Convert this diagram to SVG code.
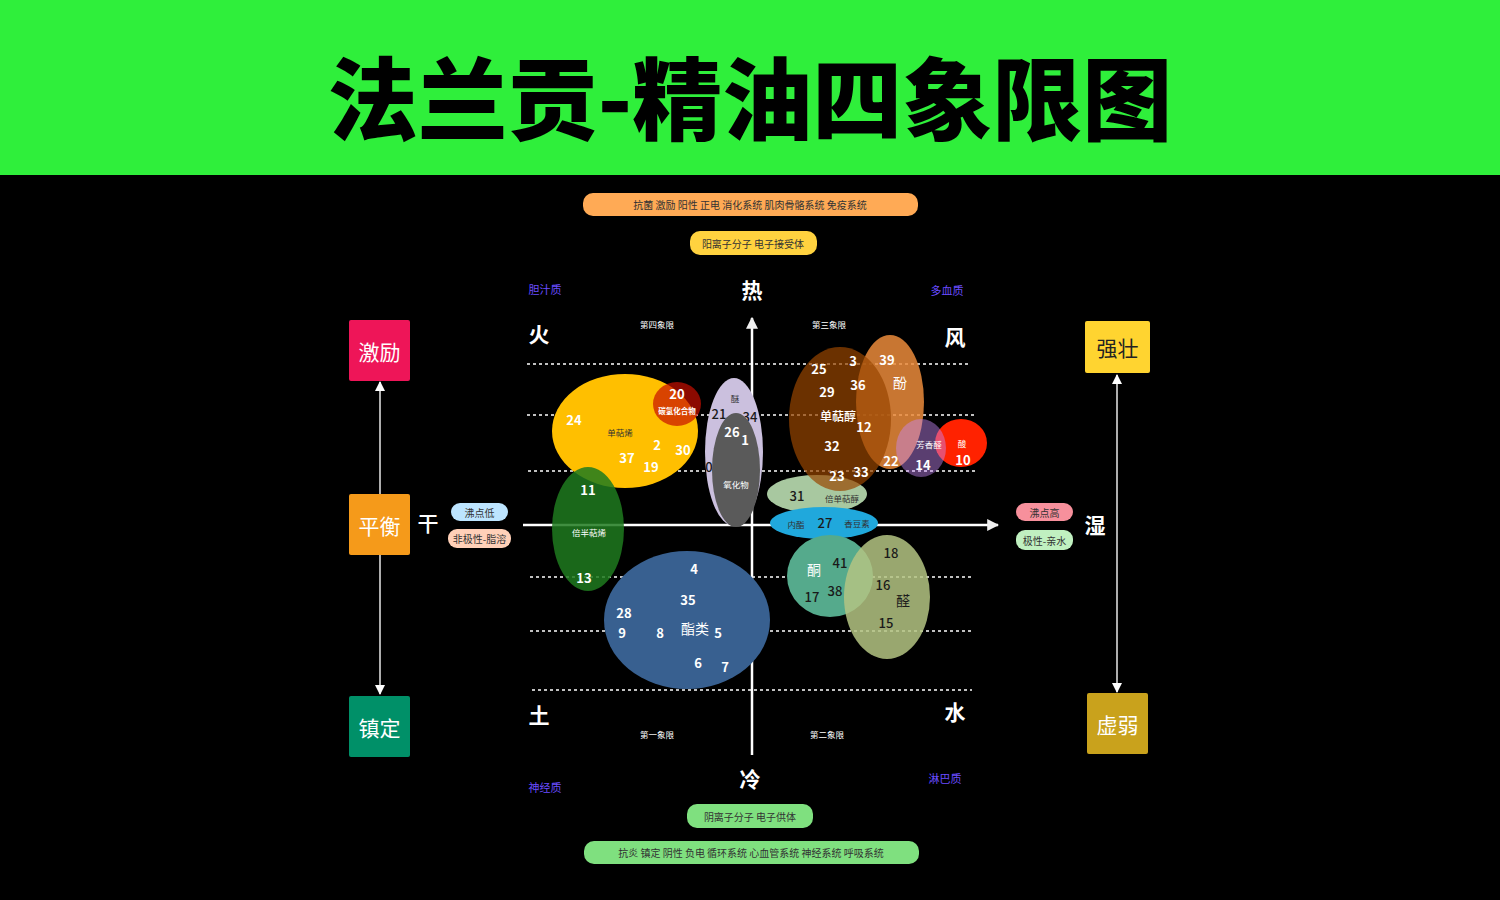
<svg xmlns="http://www.w3.org/2000/svg" width="1500" height="900" viewBox="0 0 1500 900">
<defs>
<marker id="ah" viewBox="0 0 10 10" refX="9" refY="5" markerWidth="10" markerHeight="10" markerUnits="userSpaceOnUse" orient="auto-start-reverse"><path d="M0,0 L10,5 L0,10 Z" fill="#ffffff"/></marker>
<marker id="ahs" viewBox="0 0 10 10" refX="9" refY="5" markerWidth="12" markerHeight="12" markerUnits="userSpaceOnUse" orient="auto-start-reverse"><path d="M0,0 L10,5 L0,10 Z" fill="#f0f0f0"/></marker>
</defs>
<style>
text{font-family:"Noto Sans CJK SC","Noto Sans",sans-serif;text-anchor:middle;dominant-baseline:central}
.num{font-size:13px;font-weight:600;fill:#ffffff}
.numd{font-size:13px;font-weight:500;fill:#1a1a1a}
.sm{font-size:8.5px;fill:#ffffff}
.smd{font-size:8.5px;fill:#333333}
.pill{font-size:10px;fill:#333333}
.big{font-size:21px;font-weight:700;fill:#ffffff}
.q{font-size:8.5px;fill:#ffffff}
.temp{font-size:11px;fill:#6a4cff}
.box{font-size:21px;fill:#ffffff}
.dash{stroke:#ffffff;stroke-width:1.3;stroke-dasharray:3 3;fill:none}
</style>
<rect x="0" y="0" width="1500" height="900" fill="#000000"/>
<rect x="0" y="0" width="1500" height="175" fill="#2fef3b"/>
<text x="750" y="94" style="font-size:90px;font-weight:900;fill:#000000">法兰贡-精油四象限图</text>

<g id="top-pills">
<rect x="583" y="193" width="335" height="23" rx="10" fill="#ffaa55"/>
<text x="750" y="204.5" class="pill">抗菌 激励 阳性 正电 消化系统 肌肉骨骼系统 免疫系统</text>
<rect x="690" y="231" width="127" height="24" rx="10" fill="#ffd23f"/>
<text x="753" y="243" class="pill">阳离子分子 电子接受体</text>
</g>
<g id="bottom-pills">
<rect x="687" y="804" width="126" height="24" rx="10" fill="#7fe07f"/>
<text x="750" y="816" class="pill">阴离子分子 电子供体</text>
<rect x="584" y="841" width="335" height="23" rx="10" fill="#7fe07f"/>
<text x="751" y="852.5" class="pill">抗炎 镇定 阴性 负电 循环系统 心血管系统 神经系统 呼吸系统</text>
</g>

<g id="labels">
<text x="545" y="289" class="temp">胆汁质</text>
<text x="947" y="290" class="temp">多血质</text>
<text x="545" y="787" class="temp">神经质</text>
<text x="945" y="778" class="temp">淋巴质</text>
<text x="752" y="289" class="big">热</text>
<text x="750" y="778" class="big">冷</text>
<text x="539" y="333" class="big">火</text>
<text x="955" y="336" class="big">风</text>
<text x="539" y="714" class="big">土</text>
<text x="955" y="711" class="big">水</text>
<text x="657" y="324" class="q">第四象限</text>
<text x="829" y="324" class="q">第三象限</text>
<text x="657" y="734" class="q">第一象限</text>
<text x="827" y="734" class="q">第二象限</text>
</g>

<g id="grid">
<line x1="527" y1="364" x2="968" y2="364" class="dash"/>
<line x1="527" y1="415" x2="974" y2="415" class="dash"/>
<line x1="528" y1="471" x2="975" y2="471" class="dash"/>
<line x1="530" y1="577" x2="972" y2="577" class="dash"/>
<line x1="530" y1="631" x2="972" y2="631" class="dash"/>
<line x1="532" y1="690" x2="972" y2="690" class="dash"/>
</g>

<g id="connectors">
<line x1="752" y1="755" x2="752" y2="318" stroke="#ffffff" stroke-width="2.5" marker-end="url(#ahs)"/>
<line x1="523" y1="525" x2="998" y2="525" stroke="#ffffff" stroke-width="2.5" marker-end="url(#ahs)"/>
<line x1="380" y1="494" x2="380" y2="382" stroke="#e8e8e8" stroke-width="1.5" marker-end="url(#ah)"/>
<line x1="380" y1="555" x2="380" y2="694" stroke="#e8e8e8" stroke-width="1.5" marker-end="url(#ah)"/>
<line x1="1117" y1="375" x2="1117" y2="692" stroke="#e8e8e8" stroke-width="1.5" marker-start="url(#ah)" marker-end="url(#ah)"/>
</g>

<g id="monoterpene">
<ellipse cx="625" cy="431" rx="73" ry="57" fill="#ffbf00"/>
<text x="620" y="432" class="smd">单萜烯</text>
<text x="574" y="419" class="num">24</text>
<text x="657" y="444" class="num">2</text>
<text x="683" y="449" class="num">30</text>
<text x="627" y="457" class="num">37</text>
<text x="651" y="466" class="num">19</text>
</g>
<g id="hydrocarbon">
<ellipse cx="677" cy="404" rx="24" ry="22" fill="#c70e00" fill-opacity="0.7"/>
<text x="677" y="393" class="num">20</text>
<text x="677" y="410" style="font-size:7.5px;font-weight:700;fill:#ffffff">碳氢化合物</text>
</g>
<g id="ether">
<ellipse cx="734" cy="452" rx="29" ry="74" fill="#cbc0de"/>
<text x="735" y="398" class="smd">醚</text>
<text x="719" y="413" class="numd">21</text>
<text x="750" y="416" class="numd">34</text>
<text x="709" y="466" class="numd">0</text>
</g>
<g id="oxide">
<ellipse cx="736" cy="470" rx="24" ry="57" fill="#5a5a5a"/>
<text x="736" y="484" class="sm">氧化物</text>
<text x="732" y="431" class="num">26</text>
<text x="745" y="439" class="num">1</text>
</g>
<g id="sesquiterpene">
<ellipse cx="588" cy="529" rx="36" ry="62" fill="#1e7a1e" fill-opacity="0.85"/>
<text x="588" y="489" class="num">11</text>
<text x="589" y="532" class="sm">倍半萜烯</text>
<text x="584" y="577" class="num">13</text>
</g>
<g id="ester">
<ellipse cx="687" cy="620" rx="83" ry="69" fill="#386090"/>
<text x="694" y="568" class="num">4</text>
<text x="688" y="599" class="num">35</text>
<text x="624" y="612" class="num">28</text>
<text x="622" y="632" class="num">9</text>
<text x="660" y="632" class="num">8</text>
<text x="695" y="628" style="font-size:14px;fill:#ffffff">酯类</text>
<text x="718" y="632" class="num">5</text>
<text x="698" y="662" class="num">6</text>
<text x="725" y="666" class="num">7</text>
</g>
<g id="sesquiterpenol">
<ellipse cx="817" cy="494" rx="50" ry="19" fill="#a8c8a0"/>
<text x="797" y="495" class="numd">31</text>
<text x="842" y="498" class="smd">倍单萜醇</text>
</g>
<g id="phenol">
<ellipse cx="890" cy="402" rx="34" ry="67" fill="#eb8b3b" fill-opacity="0.85"/>
</g>
<g id="monoterpenol">
<ellipse cx="840" cy="419" rx="51" ry="72" fill="#984600" fill-opacity="0.7"/>
<text x="819" y="368" class="num">25</text>
<text x="853" y="360" class="num">3</text>
<text x="827" y="391" class="num">29</text>
<text x="858" y="384" class="num">36</text>
<text x="838" y="415" style="font-size:12px;font-weight:500;fill:#ffffff">单萜醇</text>
<text x="864" y="426" class="num">12</text>
<text x="832" y="445" class="num">32</text>
<text x="837" y="475" class="num">23</text>
<text x="861" y="471" class="num">33</text>
</g>
<g id="acid">
<ellipse cx="961" cy="443" rx="26" ry="24" fill="#ff2200"/>
<text x="962" y="443" class="sm">酸</text>
<text x="963" y="459" class="num">10</text>
</g>
<g id="aromatic-aldehyde">
<ellipse cx="921" cy="448" rx="25" ry="29" fill="#c88af9" fill-opacity="0.45"/>
<text x="929" y="444" class="sm">芳香醛</text>
<text x="923" y="464" class="num">14</text>
</g>
<g id="phenol-labels">
<text x="887" y="359" class="num">39</text>
<text x="900" y="382" style="font-size:14px;fill:#ffffff">酚</text>
<text x="891" y="460" class="num">22</text>
</g>
<g id="lactone">
<ellipse cx="824" cy="523" rx="54" ry="16" fill="#20a8dc"/>
<text x="796" y="524" class="smd">内酯</text>
<text x="825" y="522" class="numd">27</text>
<text x="857" y="523" class="smd">香豆素</text>
</g>
<g id="ketone">
<ellipse cx="830" cy="576" rx="43" ry="41" fill="#55aa8c"/>
<text x="814" y="569" style="font-size:14px;fill:#ffffff">酮</text>
<text x="840" y="562" class="numd">41</text>
<text x="812" y="596" class="numd">17</text>
<text x="835" y="590" class="numd">38</text>
</g>
<g id="aldehyde">
<ellipse cx="887" cy="597" rx="43" ry="62" fill="#b4c482" fill-opacity="0.85"/>
<text x="891" y="552" class="numd">18</text>
<text x="883" y="584" class="numd">16</text>
<text x="903" y="600" style="font-size:14px;fill:#1a1a1a">醛</text>
<text x="886" y="622" class="numd">15</text>
</g>

<g id="box-stimulate">
<rect x="349" y="320" width="61" height="61" rx="2" fill="#ee1558"/>
<text x="379.5" y="350.5" class="box">激励</text>
</g>
<g id="box-balance">
<rect x="349" y="494" width="61" height="61" rx="2" fill="#f59a1a"/>
<text x="379.5" y="524.5" class="box">平衡</text>
</g>
<g id="box-calm">
<rect x="349" y="696" width="61" height="61" rx="2" fill="#009068"/>
<text x="379.5" y="726.5" class="box">镇定</text>
</g>
<g id="box-strong">
<rect x="1085" y="321" width="65" height="52" rx="2" fill="#ffd430"/>
<text x="1117.5" y="347" class="box" style="fill:#222222">强壮</text>
</g>
<g id="box-weak">
<rect x="1087" y="693" width="61" height="61" rx="2" fill="#c9a21c"/>
<text x="1117.5" y="723.5" class="box">虚弱</text>
</g>
<g id="dry">
<text x="428" y="522" class="big" style="font-weight:500">干</text>
<rect x="451" y="503" width="57" height="18" rx="9" fill="#bde5ff"/>
<text x="479.5" y="512" class="pill">沸点低</text>
<rect x="448" y="529" width="63" height="19" rx="9" fill="#ffd0b8"/>
<text x="479.5" y="538.5" class="pill">非极性-脂溶</text>
</g>
<g id="wet">
<text x="1095" y="524" class="big">湿</text>
<rect x="1016" y="503" width="57" height="18" rx="9" fill="#f7909c"/>
<text x="1044.5" y="512" class="pill">沸点高</text>
<rect x="1016" y="530" width="57" height="20" rx="9" fill="#c0f0c0"/>
<text x="1044.5" y="540" class="pill">极性-亲水</text>
</g>
</svg>
